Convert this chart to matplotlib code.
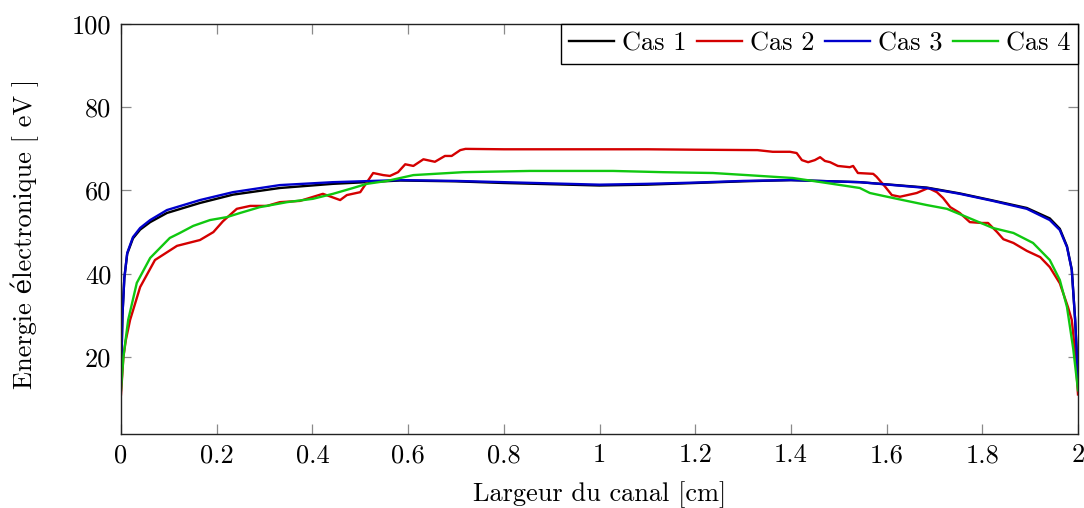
import matplotlib
matplotlib.use("Agg")
import matplotlib.pyplot as plt
from matplotlib.ticker import FuncFormatter

plt.rcParams['font.family'] = ['cmr10', 'DejaVu Serif']
plt.rcParams['axes.formatter.use_mathtext'] = True
plt.rcParams['mathtext.fontset'] = 'cm'

# Cas 1 (black)
x1 = [0, 0.003, 0.007, 0.013, 0.025, 0.04, 0.061, 0.096, 0.165, 0.234, 0.332, 0.443, 0.583,
      0.7, 0.8, 0.9, 1.0, 1.1, 1.2, 1.3, 1.4, 1.544, 1.684, 1.753, 1.822, 1.893, 1.941,
      1.962, 1.977, 1.987, 1.994, 2.0]
y1 = [14, 30, 39, 44.8, 48.5, 50.6, 52.4, 54.6, 57.0, 59.0, 60.6, 61.6, 62.4,
      62.2, 61.8, 61.5, 61.2, 61.4, 61.8, 62.2, 62.5, 62.0, 60.7, 59.3, 57.6, 55.8, 53.3,
      50.8, 46.6, 41.0, 29.0, 15]

# Cas 2 (red)
x2 = [0, 0.005, 0.01, 0.019, 0.04, 0.071, 0.117, 0.165, 0.193, 0.213, 0.242, 0.27, 0.305,
      0.332, 0.374, 0.422, 0.458, 0.472, 0.5, 0.514, 0.527, 0.548, 0.562, 0.579, 0.594,
      0.611, 0.632, 0.656, 0.677, 0.691, 0.709, 0.72, 0.8, 0.9, 1.0, 1.1, 1.2, 1.33,
      1.362, 1.398, 1.412, 1.423, 1.436, 1.450, 1.461, 1.471, 1.482, 1.498, 1.523, 1.530,
      1.540, 1.572, 1.579, 1.597, 1.611, 1.628, 1.663, 1.687, 1.705, 1.718, 1.733, 1.753,
      1.774, 1.799, 1.812, 1.831, 1.844, 1.865, 1.893, 1.921, 1.941, 1.962, 1.979, 1.987,
      1.995, 2.0]
y2 = [11, 20, 24, 28.9, 36.8, 43.3, 46.7, 48.1, 50.0, 52.6, 55.6, 56.3, 56.3,
      57.2, 57.5, 59.2, 57.7, 58.9, 59.6, 62.0, 64.2, 63.7, 63.5, 64.4, 66.3,
      65.9, 67.5, 66.9, 68.3, 68.3, 69.7, 70.0, 69.9, 69.9, 69.9, 69.9, 69.8, 69.7,
      69.3, 69.3, 69.0, 67.3, 66.8, 67.3, 68.0, 67.1, 66.8, 65.9, 65.6, 65.9,
      64.2, 64.0, 63.3, 60.9, 58.9, 58.5, 59.4, 60.6, 59.6, 58.2, 56.0, 54.6,
      52.4, 52.2, 52.2, 50.0, 48.3, 47.4, 45.5, 44.0, 41.6, 37.7, 32.0, 28.9,
      20, 11]

# Cas 3 (blue)
x3 = [0, 0.003, 0.007, 0.013, 0.025, 0.04, 0.061, 0.096, 0.165, 0.234, 0.332, 0.443, 0.583,
      0.7, 0.8, 0.9, 1.0, 1.1, 1.2, 1.3, 1.4, 1.544, 1.684, 1.753, 1.822, 1.893, 1.941,
      1.962, 1.977, 1.987, 1.994, 2.0]
y3 = [14, 30, 39, 45, 48.8, 51, 52.9, 55.3, 57.7, 59.6, 61.3, 62.0, 62.5,
      62.3, 62.0, 61.7, 61.4, 61.6, 61.9, 62.3, 62.5, 62.0, 60.6, 59.2, 57.5, 55.6, 52.9,
      50.5, 46.4, 40.9, 28.9, 15]

# Cas 4 (green)
x4 = [0, 0.005, 0.015, 0.033, 0.061, 0.102, 0.123, 0.151, 0.186, 0.221, 0.249, 0.29, 0.347,
      0.401, 0.443, 0.485, 0.514, 0.556, 0.611, 0.715, 0.855, 1.028, 1.133, 1.237, 1.308,
      1.404, 1.475, 1.544, 1.565, 1.593, 1.634, 1.684, 1.726, 1.768, 1.822, 1.865, 1.906,
      1.941, 1.962, 1.977, 1.99, 2.0]
y4 = [12, 20, 28.9, 37.8, 43.8, 48.6, 49.8, 51.5, 52.9, 53.6, 54.6, 56.0, 57.2,
      58.0, 59.2, 60.6, 61.6, 62.3, 63.7, 64.4, 64.7, 64.7, 64.4, 64.2, 63.7,
      63.0, 61.8, 60.6, 59.4, 58.7, 57.7, 56.5, 55.6, 53.6, 51.0, 49.8, 47.4,
      43.3, 38.5, 32.0, 22, 12]

labels = ['Cas 1', 'Cas 2', 'Cas 3', 'Cas 4']
colors = ['#000000', '#d40000', '#0000cc', '#10c810']

xticks = [0, 0.2, 0.4, 0.6, 0.8, 1.0, 1.2, 1.4, 1.6, 1.8, 2.0]
yticks = [20, 40, 60, 80, 100]

fig = plt.figure(figsize=(10.84, 5.08), dpi=100)
ax = fig.add_axes([121/1084, (508-434)/508, (1078-121)/1084, (434-24)/508])

for xs, ys, lab, c in zip([x1, x2, x3, x4], [y1, y2, y3, y4], labels, colors):
    ax.plot(xs, ys, color=c, lw=1.7, label=lab)

ax.set_xlim(0, 2)
ax.set_ylim(1.5, 100)
ax.set_xticks(xticks)
ax.set_yticks(yticks)
ax.xaxis.set_major_formatter(FuncFormatter(lambda v, p: '%g' % v))
ax.yaxis.set_major_formatter(FuncFormatter(lambda v, p: '%g' % v))

fs = 19
ax.tick_params(direction='in', length=7, width=0.9, color='#8a8a8a',
               top=True, right=True, labelsize=fs, pad=7)
for s in ax.spines.values():
    s.set_color('#222222')
    s.set_linewidth(1.0)

ax.set_xlabel('Largeur du canal [cm]', fontsize=fs)
ax.set_ylabel('Energie électronique [ eV ]', fontsize=fs)
ax.xaxis.set_label_coords(0.5, (434-495)/410)
ax.xaxis.label.set_va('center')
ax.yaxis.set_label_coords((25-121)/957, (434-234)/410)
ax.yaxis.label.set_va('center')

leg = ax.legend(loc='upper right', ncol=4, fontsize=fs, frameon=True, fancybox=False,
                edgecolor='black', framealpha=1, borderaxespad=0, handlelength=1.7,
                handletextpad=0.3, columnspacing=0.4, borderpad=0.3)
leg.get_frame().set_linewidth(1.0)

fig.savefig('out.png', dpi=100)
